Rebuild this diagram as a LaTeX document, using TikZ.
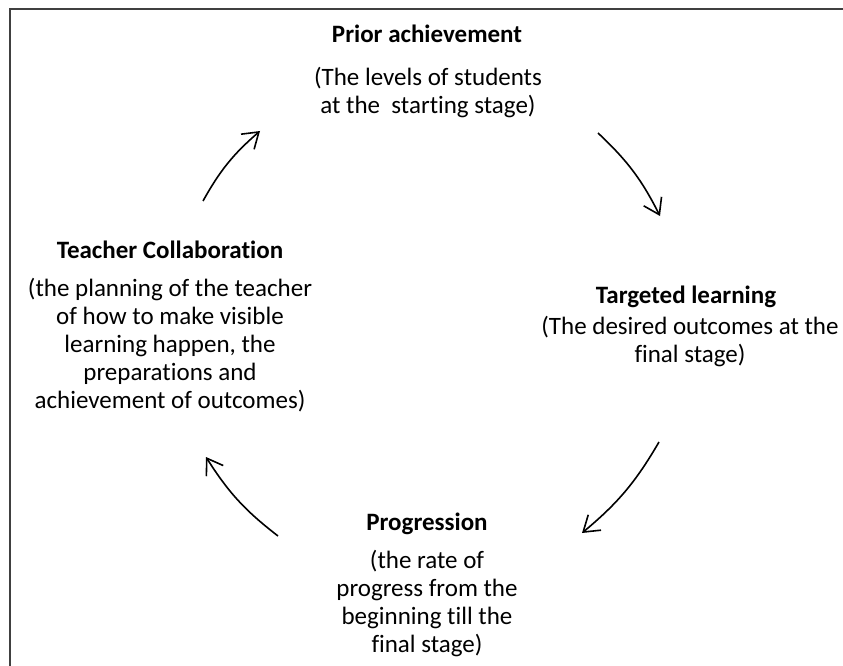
\documentclass[tikz,border=0pt]{standalone}
\usepackage{fontspec}
\setmainfont{Carlito}[Ligatures=NoCommon]
\usetikzlibrary{arrows.meta}
\begin{document}
\begin{tikzpicture}[x=1pt,y=-1pt,
  title/.style={font=\fontsize{25}{28}\selectfont\bfseries, inner sep=0pt, anchor=base},
  desc/.style={font=\fontsize{25}{28}\selectfont, align=center, inner sep=0pt},
  cyclearrow/.style={line width=1.6pt, -{Straight Barb[length=15pt,width=20pt,line width=1.6pt]}, bend left=10},
  frame/.style={draw=black!75, line width=2pt}]
\useasboundingbox (0,0) rectangle (843,666);
% open frame: top and left edges
\draw[frame] (843,9) -- (10,9) -- (10,666);

% stage labels
\node[title] (prior) at (427,43) {Prior achievement};
\node[desc] (priord) at (428,92.5) {(The levels of students\\at the~ starting stage)};

\node[title] (target) at (686,303) {Targeted learning};
\node[desc] (targetd) at (690,342) {(The desired outcomes at the\\final stage)};

\node[title] (prog) at (427,530) {Progression};
\node[desc] (progd) at (427,603.5) {(the rate of\\progress from the\\beginning till the\\final stage)};

\node[title] (teach) at (170,258) {Teacher Collaboration};
\node[desc] (teachd) at (170,345) {(the planning of the teacher\\of how to make visible\\learning happen, the\\preparations and\\achievement of outcomes)};

% arrow end points around the cycle
\coordinate (a1s) at (203,201); \coordinate (a1e) at (260,131);
\coordinate (a2s) at (598,133); \coordinate (a2e) at (660,216);
\coordinate (a3s) at (659,442); \coordinate (a3e) at (582,533);
\coordinate (a4s) at (278,536); \coordinate (a4e) at (206,457);

\draw[cyclearrow] (a1s) to (a1e);
\draw[cyclearrow] (a2s) to (a2e);
\draw[cyclearrow] (a3s) to (a3e);
\draw[cyclearrow] (a4s) to (a4e);
\end{tikzpicture}
\end{document}
